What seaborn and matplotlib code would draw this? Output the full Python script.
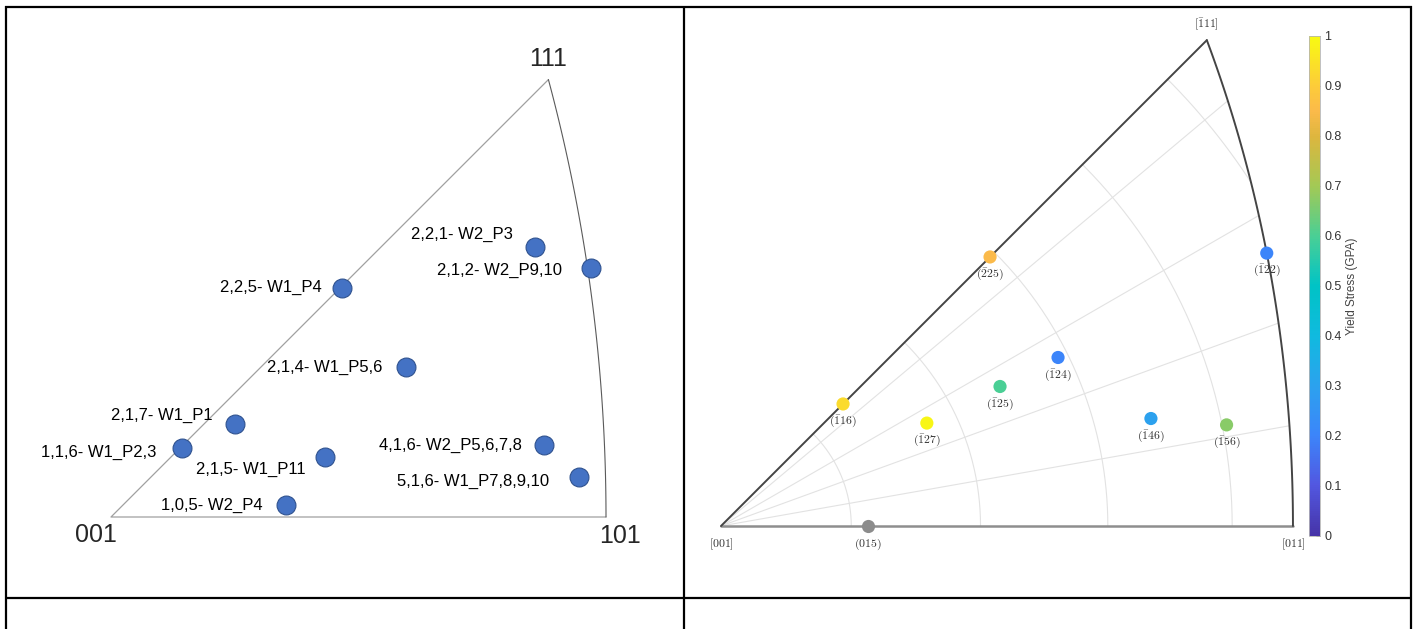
import numpy as np
import pandas as pd
import seaborn as sns
import matplotlib.pyplot as plt
from matplotlib.colors import LinearSegmentedColormap, Normalize
from matplotlib.patches import Polygon
import matplotlib.cm as cm

sns.set_style('white')
plt.rcParams['font.family'] = ['Liberation Sans', 'DejaVu Sans']
plt.rcParams['mathtext.fontset'] = 'cm'

# left panel: hand placed points (x along 001->101, 101 = 1)
left_labels = ['2,2,1- W2_P3', '2,1,2- W2_P9,10', '2,2,5- W1_P4', '2,1,4- W1_P5,6',
               '2,1,7- W1_P1', '1,1,6- W1_P2,3', '2,1,5- W1_P11', '1,0,5- W2_P4',
               '4,1,6- W2_P5,6,7,8', '5,1,6- W1_P7,8,9,10']
left_x = [0.857, 0.970, 0.467, 0.596, 0.251, 0.143, 0.432, 0.354, 0.875, 0.945]
left_y = [0.545, 0.503, 0.463, 0.303, 0.188, 0.139, 0.121, 0.024, 0.145, 0.081]
left_corners = ['001', '101', '111']

# right panel: miller indices (h,k,l) and yield stress
right_h = [-1, -1, -2, -1, -1, -1, -1, -1, 0]
right_k = [1, 2, 2, 2, 2, 4, 5, 2, 1]
right_l = [6, 7, 5, 5, 4, 6, 6, 2, 5]
yield_stress = [0.93, 0.99, 0.85, 0.60, 0.20, 0.30, 0.67, 0.20, np.nan]
cbar_ticks = [0, 0.1, 0.2, 0.3, 0.4, 0.5, 0.6, 0.7, 0.8, 0.9, 1]

W, H = 1419, 629
fig = plt.figure(figsize=(W / 100, H / 100), dpi=100)


def px_axes(box, origin, scale):
    x0, y0, x1, y1 = box
    ax = fig.add_axes([x0 / W, 1 - y1 / H, (x1 - x0) / W, (y1 - y0) / H])
    ax.set_xlim((x0 - origin[0]) / scale, (x1 - origin[0]) / scale)
    ax.set_ylim((origin[1] - y1) / scale, (origin[1] - y0) / scale)
    ax.axis('off')
    return ax


# table frame
bg = fig.add_axes([0, 0, 1, 1], zorder=-5)
bg.set_xlim(0, W)
bg.set_ylim(H, 0)
bg.axis('off')
bg.hlines([7, 598], 5, 1412, color='black', lw=1.6)
bg.vlines([6, 684, 1411], 6, H, color='black', lw=1.6)


def stereo(h, k, l):
    v = np.array([k, -h, l], float)
    v = v / np.linalg.norm(v)
    f = 1 / (1 + v[2])
    return v[0] * f, v[1] * f


def earea(h, k, l):
    v = np.array([k, -h, l], float)
    v = v / np.linalg.norm(v)
    f = np.sqrt(2 / (1 + v[2]))
    return v[0] * f, v[1] * f


def miller(h, k, l, br='()'):
    s = ''.join(r'\bar{%d}' % abs(i) if i < 0 else str(i) for i in (h, k, l))
    return '$' + br[0] + s + br[1] + '$'


t = np.linspace(0, 1, 80)

# ---------------- left panel ----------------
axl = px_axes((8, 9, 682, 596), (111, 517), 495)
s_edge = stereo(0, 1, 1)[0]
arc = np.array([stereo(-tt, 1, 1) for tt in t]) / s_edge
c111 = arc[-1]
axl.plot([c111[0], 0, 1], [c111[1], 0, 0], color='#a0a0a0', lw=0.9)
axl.plot(arc[:, 0], arc[:, 1], color='#5a5a5a', lw=0.8)

dfl = pd.DataFrame({'x': left_x, 'y': left_y, 'label': left_labels})
sns.scatterplot(data=dfl, x='x', y='y', ax=axl, s=185, color='#4472C4',
                edgecolor='#2F528F', linewidth=0.8, zorder=3)
left_off = [(-16, 9), (-21, -2), (-15, 0), (-17, 0), (-16, 6), (-18, -3),
            (-14, -9), (-17, 0), (-16, 0), (-21, -3)]
for (x, y, lab), off in zip(dfl[['x', 'y', 'label']].values, left_off):
    axl.annotate(lab, (x, y), xytext=off, textcoords='offset points',
                 ha='right', va='center', fontsize=12, color='black')
corner_pos = [(0, 0), (1, 0), tuple(c111)]
corner_off = [(-11, -13), (10, -14), (0, 15)]
for lab, p, off in zip(left_corners, corner_pos, corner_off):
    axl.annotate(lab, p, xytext=off, textcoords='offset points',
                 ha='center', va='center', fontsize=18)

# ---------------- right panel ----------------
axr = px_axes((686, 9, 1300, 596), (721, 526), 747.3)
p011 = earea(0, 1, 1)
bnd = np.array([earea(-tt, 1, 1) for tt in t])
tri = np.vstack([[0, 0], bnd, [0, 0]])
clip = Polygon(tri, closed=True, facecolor='none', edgecolor='none',
               transform=axr.transData)
axr.add_patch(clip)

phi = np.linspace(0, np.pi / 2, 200)
for th in [10, 20, 30, 40, 50]:
    r = 2 * np.sin(np.radians(th) / 2)
    ln, = axr.plot(r * np.cos(phi), r * np.sin(phi), color='#e2e2e2', lw=0.8)
    ln.set_clip_path(clip)
for az in [10, 20, 30, 40]:
    a = np.radians(az)
    ln, = axr.plot([0, np.cos(a)], [0, np.sin(a)], color='#e2e2e2', lw=0.8)
    ln.set_clip_path(clip)

axr.plot([0, p011[0]], [0, 0], color='#8e8e8e', lw=1.8)
axr.plot([0, bnd[-1, 0]], [0, bnd[-1, 1]], color='#444444', lw=1.4)
axr.plot(bnd[:, 0], bnd[:, 1], color='#444444', lw=1.4)

parula = LinearSegmentedColormap.from_list('parula_like', [
    (0.0, '#4634A8'), (0.1, '#5257E0'), (0.2, '#3C85FA'), (0.3, '#2CA2EE'),
    (0.4, '#10BADF'), (0.5, '#00C3C6'), (0.6, '#4ACF95'), (0.7, '#A3C955'),
    (0.8, '#DDB63E'), (0.85, '#FBBA4A'), (0.9, '#FDCB3A'), (1.0, '#F8FA12')])
norm = Normalize(0, 1)

xy = np.array([earea(h, k, l) for h, k, l in zip(right_h, right_k, right_l)])
dfr = pd.DataFrame({'x': xy[:, 0], 'y': xy[:, 1], 'stress': yield_stress,
                    'label': [miller(h, k, l) for h, k, l in zip(right_h, right_k, right_l)]})
meas = dfr[dfr['stress'].notna()]
sns.scatterplot(data=meas, x='x', y='y', hue='stress', palette=parula, hue_norm=norm,
                s=90, linewidth=0, legend=False, ax=axr, zorder=4)
sns.scatterplot(data=dfr[dfr['stress'].isna()], x='x', y='y', color='#8c8c8c',
                s=90, linewidth=0, legend=False, ax=axr, zorder=4)
for x, y, lab in dfr[['x', 'y', 'label']].values:
    axr.annotate(lab, (x, y), xytext=(0, -13), textcoords='offset points',
                 ha='center', va='center', fontsize=8.5, color='#333333')

for (h, k, l), off in zip([(0, 0, 1), (0, 1, 1), (-1, 1, 1)], [(0, -13), (0, -13), (0, 11)]):
    axr.annotate(miller(h, k, l, '[]'), earea(h, k, l), xytext=off,
                 textcoords='offset points', ha='center', va='center',
                 fontsize=8.5, color='#333333')

cax = fig.add_axes([1309 / W, 1 - 536 / H, 11 / W, 500 / H])
cb = fig.colorbar(cm.ScalarMappable(norm=norm, cmap=parula), cax=cax, ticks=cbar_ticks)
cb.outline.set_edgecolor('#b5b5b5')
cb.outline.set_linewidth(0.6)
cax.set_yticklabels(['%g' % v for v in cbar_ticks])
cax.tick_params(direction='in', length=3, width=0.6, colors='#555555',
                labelsize=9, labelcolor='#333333', pad=3)
cax.set_ylabel('Yield Stress (GPA)', fontsize=8.5, color='#444444', labelpad=3)

fig.savefig('out.png', dpi=100)
